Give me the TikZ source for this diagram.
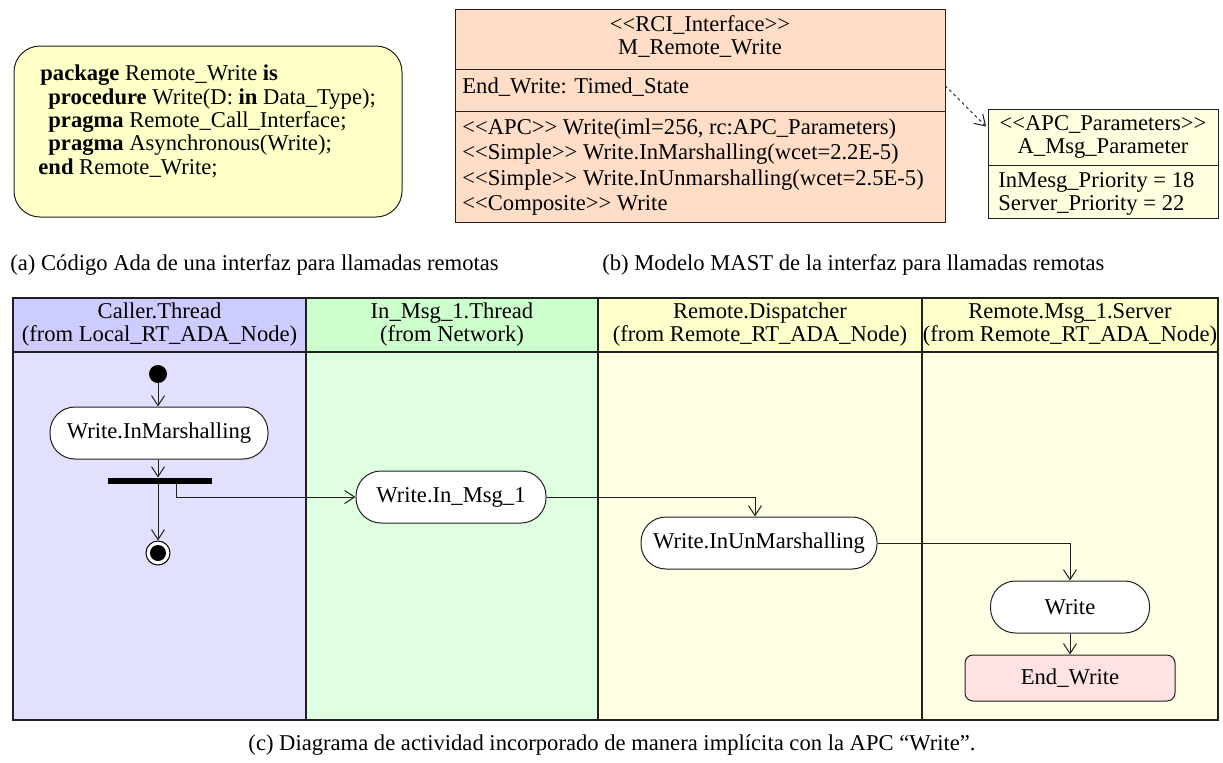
\documentclass[tikz,border=0pt]{standalone}
\usepackage{fontspec}
\setmainfont{Liberation Serif}
\usetikzlibrary{arrows.meta}
\newcommand\dfont{\fontsize{11.3pt}{11.5pt}\selectfont}
\definecolor{codefill}{HTML}{FFFFC8}
\definecolor{rcifill}{HTML}{FFDDC6}
\definecolor{apcfill}{HTML}{FFFFE0}
\definecolor{laneAhead}{HTML}{CCCCFF}
\definecolor{laneAbody}{HTML}{E1E1FF}
\definecolor{laneBhead}{HTML}{CCFFCC}
\definecolor{laneBbody}{HTML}{E0FFE0}
\definecolor{laneChead}{HTML}{FFFFCC}
\definecolor{laneCbody}{HTML}{FFFFE4}
\definecolor{endfill}{HTML}{FFE3E3}
\definecolor{edge}{HTML}{202020}
\tikzset{
  txt/.style={font=\dfont, inner sep=0pt},
  ltxt/.style={txt, anchor=west},
  classbox/.style={draw=edge, line width=0.5pt, inner sep=0pt, outer sep=0pt},
  lanebox/.style={draw=edge, line width=0.75pt, inner sep=0pt, outer sep=0pt},
  activity/.style={draw=edge, fill=white, line width=0.5pt, rounded corners=12.5pt,
    minimum height=26pt, inner sep=0pt, font=\dfont},
  statebox/.style={draw=edge, fill=endfill, line width=0.5pt, rounded corners=4pt,
    minimum height=23pt, inner sep=0pt, font=\dfont},
  flow/.style={draw=edge, line width=0.5pt, -{Straight Barb[length=5pt,width=6.5pt]}},
  depend/.style={draw=edge, line width=0.5pt, dash pattern=on 1.5pt off 1.5pt,
    -{Straight Barb[length=5pt,width=6.5pt]}},
}
\begin{document}
\begin{tikzpicture}[x=0.5pt,y=-0.5pt]
\useasboundingbox (0,0) rectangle (1223,762);

% ---------- Ada source of the interface ----------
\node[draw=edge, fill=codefill, line width=0.5pt, rounded corners=13pt,
  minimum width=194pt, minimum height=85.5pt, inner sep=0pt] (code) at (208,131.5) {};
\node[ltxt] (c1) at (40,75)  {\textbf{package} Remote\_Write \textbf{is}};
\node[ltxt] (c2) at (48,99)  {\textbf{procedure} Write(D: \textbf{in} Data\_Type);};
\node[ltxt] (c3) at (48,122) {\textbf{pragma} Remote\_Call\_Interface;};
\node[ltxt] (c4) at (48,145) {\textbf{pragma} Asynchronous(Write);};
\node[ltxt] (c5) at (38,168) {\textbf{end} Remote\_Write;};

% ---------- MAST model of the interface ----------
\node[classbox, fill=rcifill, minimum width=245pt, minimum height=106.5pt] (rci) at (700,115.5) {};
\draw[edge, line width=0.5pt] (rci.west |- 0,69) -- (rci.east |- 0,69);
\draw[edge, line width=0.5pt] (rci.west |- 0,111) -- (rci.east |- 0,111);
\node[txt, align=center] (rcititle) at (700,36) {<{}<RCI\_Interface>{}>\\M\_Remote\_Write};
\node[ltxt] (rciattr) at (462,87) {End\_Write: Timed\_State};
\node[ltxt] (op1) at (462,129) {<{}<APC>{}> Write(iml=256, rc:APC\_Parameters)};
\node[ltxt] (op2) at (462,154) {<{}<Simple>{}> Write.InMarshalling(wcet=2.2E-5)};
\node[ltxt] (op3) at (462,180) {<{}<Simple>{}> Write.InUnmarshalling(wcet=2.5E-5)};
\node[ltxt] (op4) at (462,205) {<{}<Composite>{}> Write};

\node[classbox, fill=apcfill, minimum width=115pt, minimum height=54.5pt] (apc) at (1103,163.5) {};
\draw[edge, line width=0.5pt] (apc.west |- 0,165) -- (apc.east |- 0,165);
\node[txt, align=center] (apctitle) at (1103,136.5) {<{}<APC\_Parameters>{}>\\A\_Msg\_Parameter};
\node[ltxt] (apc1) at (998,182) {InMesg\_Priority = 18};
\node[ltxt] (apc2) at (998,205) {Server\_Priority = 22};

\draw[depend] ([yshift=15pt]rci.east) -- ([yshift=18.5pt,xshift=-1pt]apc.west);

% ---------- captions ----------
\node[ltxt] (capa) at (10,265) {(a) Código Ada de una interfaz para llamadas remotas};
\node[ltxt] (capb) at (602,265) {(b) Modelo MAST de la interfaz para llamadas remotas};
\node[txt] (capc) at (612,745) {(c) Diagrama de actividad incorporado de manera implícita con la APC “Write”.};

% ---------- swimlanes ----------
\node[lanebox, fill=laneAbody, minimum width=146.5pt, minimum height=184pt] (laneA) at (159.5,536) {};
\node[lanebox, fill=laneBbody, minimum width=146pt,   minimum height=184pt] (laneB) at (452,536) {};
\node[lanebox, fill=laneCbody, minimum width=162pt,   minimum height=184pt] (laneC) at (760,536) {};
\node[lanebox, fill=laneCbody, minimum width=148pt,   minimum height=184pt] (laneD) at (1070,536) {};
\node[lanebox, fill=laneAhead, minimum width=146.5pt, minimum height=27pt, align=center, font=\dfont] (headA) at (159.5,325) {Caller.Thread\\(from Local\_RT\_ADA\_Node)};
\node[lanebox, fill=laneBhead, minimum width=146pt,   minimum height=27pt, align=center, font=\dfont] (headB) at (452,325) {In\_Msg\_1.Thread\\(from Network)};
\node[lanebox, fill=laneChead, minimum width=162pt,   minimum height=27pt, align=center, font=\dfont] (headC) at (760,325) {Remote.Dispatcher\\(from Remote\_RT\_ADA\_Node)};
\node[lanebox, fill=laneChead, minimum width=148pt,   minimum height=27pt, align=center, font=\dfont] (headD) at (1070,325) {Remote.Msg\_1.Server\\(from Remote\_RT\_ADA\_Node)};

% ---------- activity flow ----------
\node[circle, fill=black, minimum size=9pt, inner sep=0pt] (init) at (158,374) {};
\node[activity, minimum width=109pt] (marsh) at (159,433) {Write.InMarshalling};
\node[fill=black, minimum width=52pt, minimum height=3pt, inner sep=0pt] (fork) at (160,481) {};
\node[circle, draw=black, fill=white, line width=0.5pt, minimum size=12pt, inner sep=0pt] (final) at (158,553) {};
\node[circle, fill=black, minimum size=8pt, inner sep=0pt] (finalin) at (final) {};
\node[activity, minimum width=95pt] (inmsg) at (451,497) {Write.In\_Msg\_1};
\node[activity, minimum width=118pt] (unmarsh) at (759,543) {Write.InUnMarshalling};
\node[activity, minimum width=79.5pt] (write) at (1070,607) {Write};
\node[statebox, minimum width=105pt] (endw) at (1070,678) {End\_Write};

\draw[flow] (init) -- (marsh.north -| init);
\draw[flow] (marsh.south -| init) -- (fork.north -| init);
\draw[flow] (fork.south -| init) -- (final);
\draw[flow] ([xshift=8pt]fork.south) |- (inmsg.west);
\draw[flow] (inmsg.east) -| ([xshift=-2pt]unmarsh.north);
\draw[flow] (unmarsh.east) -| (write.north);
\draw[flow] (write) -- (endw);
\end{tikzpicture}
\end{document}
